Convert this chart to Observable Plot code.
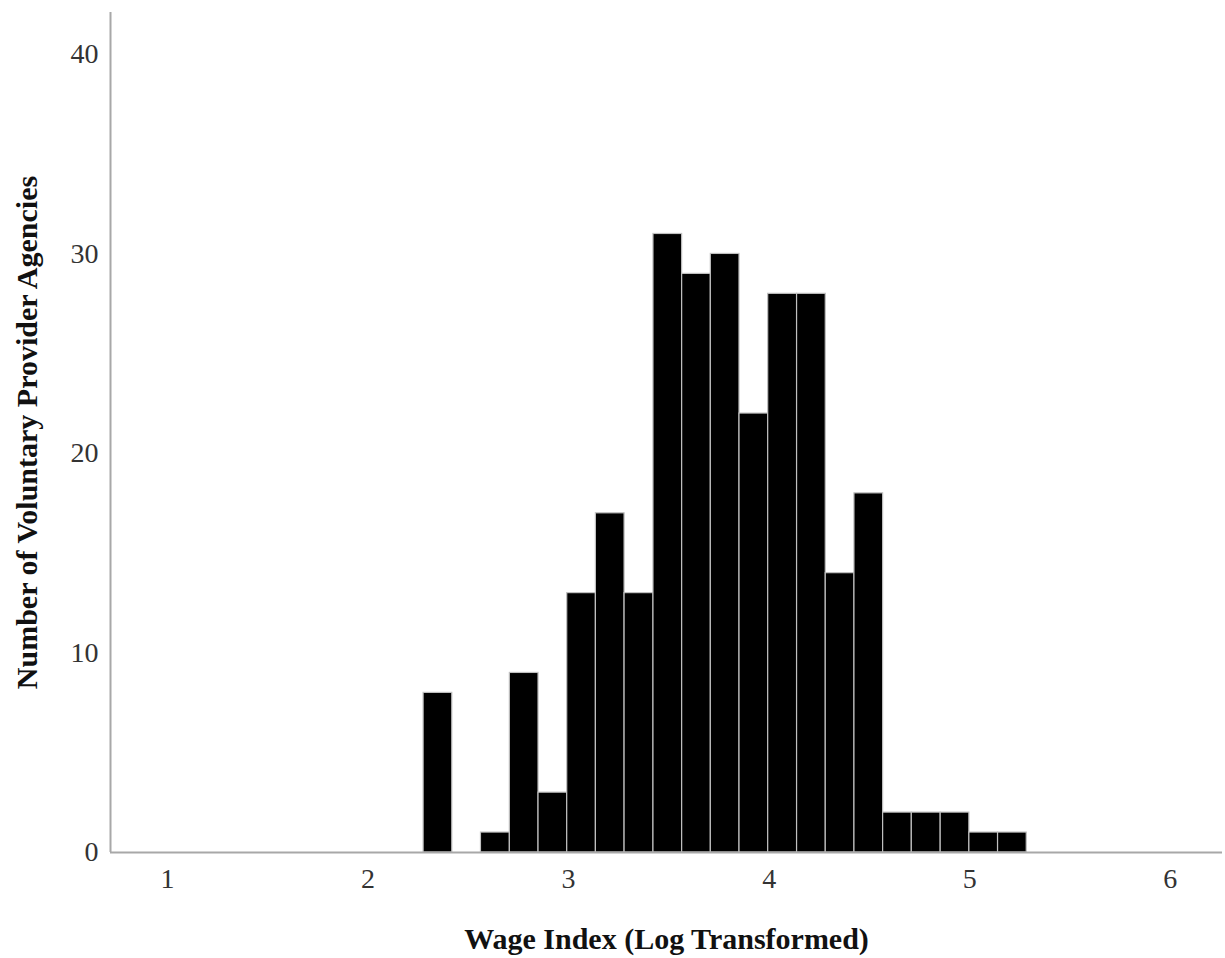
<!DOCTYPE html>
<html>
<head>
<meta charset="utf-8">
<script src="https://cdn.jsdelivr.net/npm/d3@7"></script>
<script src="https://cdn.jsdelivr.net/npm/@observablehq/plot@0.6"></script>
<style>
  html, body { margin: 0; padding: 0; background: #fff; }
  #chart svg { display: block; }
</style>
</head>
<body>
<div id="chart"></div>
<script>
// Bin edges (Wage Index, log transformed) and counts per bin
const binEdges = [2.277, 2.420, 2.563, 2.707, 2.850, 2.993, 3.136, 3.279, 3.423, 3.566, 3.709,
                  3.852, 3.995, 4.139, 4.282, 4.425, 4.568, 4.711, 4.855, 4.998, 5.141, 5.284];
const counts = [8, 0, 1, 9, 3, 13, 17, 13, 31, 29, 30, 22, 28, 28, 14, 18, 2, 2, 2, 1, 1];
const xTicks = [1, 2, 3, 4, 5, 6];
const yTicks = [0, 10, 20, 30, 40];
const xLabel = "Wage Index (Log Transformed)";
const yLabel = "Number of Voluntary Provider Agencies";

const xDomain = [0.716, 6.26];
const yDomain = [0, 42.1];

const bins = counts.map((c, i) => ({x1: binEdges[i], x2: binEdges[i + 1], count: c}))
  .filter(d => d.count > 0);

const axisColor = "#a8a8a8";
const font = "'Liberation Serif', 'Times New Roman', serif";

const chart = Plot.plot({
  width: 1225,
  height: 958,
  marginLeft: 110,
  marginRight: 3,
  marginTop: 12,
  marginBottom: 106,
  style: {fontFamily: font, background: "#fff", overflow: "visible"},
  x: {domain: xDomain, ticks: xTicks},
  y: {domain: yDomain, ticks: yTicks},
  marks: [
    Plot.rect(bins, {x1: "x1", x2: "x2", y1: 0, y2: "count", fill: "#000", stroke: "#c0c0c0", strokeWidth: 1.2}),
    Plot.ruleY([0], {stroke: axisColor, strokeWidth: 2}),
    Plot.ruleX([xDomain[0]], {y1: 0, y2: yDomain[1], stroke: axisColor, strokeWidth: 2}),
    Plot.axisX({ticks: xTicks, tickFormat: d3.format("d"), tickSize: 0, tickPadding: 16, fontSize: 28, fill: "#333", label: null}),
    Plot.axisY({ticks: yTicks, tickFormat: d3.format("d"), tickSize: 0, tickPadding: 12, fontSize: 28, fill: "#333", label: null}),
    Plot.text([xLabel], {frameAnchor: "bottom", dy: 96, fontSize: 30, fontWeight: "bold", fill: "#111"}),
    Plot.text([yLabel], {frameAnchor: "left", textAnchor: "middle", dx: -83, rotate: -90, fontSize: 30, fontWeight: "bold", fill: "#111"})
  ]
});
document.getElementById("chart").appendChild(chart);
</script>
</body>
</html>
